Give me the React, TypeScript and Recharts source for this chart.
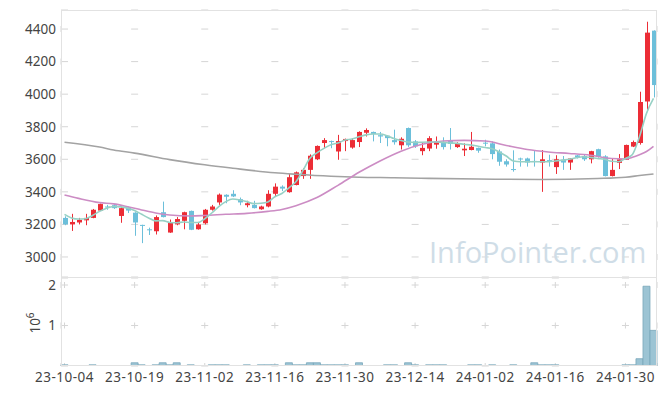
import { ComposedChart, BarChart, Bar, Line, XAxis, YAxis, CartesianGrid } from "recharts";

const dates = [
  "23-10-04", "23-10-05", "23-10-06", "23-10-10", "23-10-11", "23-10-12", "23-10-13", "23-10-16", "23-10-17", "23-10-18",
  "23-10-19", "23-10-20", "23-10-23", "23-10-24", "23-10-25", "23-10-26", "23-10-27", "23-10-30", "23-10-31", "23-11-01",
  "23-11-02", "23-11-03", "23-11-06", "23-11-07", "23-11-08", "23-11-09", "23-11-10", "23-11-13", "23-11-14", "23-11-15",
  "23-11-16", "23-11-17", "23-11-20", "23-11-21", "23-11-22", "23-11-23", "23-11-24", "23-11-27", "23-11-28", "23-11-29",
  "23-11-30", "23-12-01", "23-12-04", "23-12-05", "23-12-06", "23-12-07", "23-12-08", "23-12-11", "23-12-12", "23-12-13",
  "23-12-14", "23-12-15", "23-12-18", "23-12-19", "23-12-20", "23-12-21", "23-12-22", "23-12-26", "23-12-27", "23-12-28",
  "24-01-02", "24-01-03", "24-01-04", "24-01-05", "24-01-08", "24-01-09", "24-01-10", "24-01-11", "24-01-12", "24-01-15",
  "24-01-16", "24-01-17", "24-01-18", "24-01-19", "24-01-22", "24-01-23", "24-01-24", "24-01-25", "24-01-26", "24-01-29",
  "24-01-30", "24-01-31", "24-02-01", "24-02-02", "24-02-05",
];

const tickDates = ["23-10-04", "23-10-19", "23-11-02", "23-11-16", "23-11-30", "23-12-14", "24-01-02", "24-01-16", "24-01-30"];
const priceTicks = [3000, 3200, 3400, 3600, 3800, 4000, 4200, 4400];
const volumeTicks = [1000000, 2000000];

const opens = [
  3240, 3200, 3212, 3225, 3240, 3285, 3310, 3318, 3252, 3305,
  3272, 3197, 3170, 3158, 3275, 3150, 3200, 3222, 3283, 3170,
  3207, 3290, 3335, 3382, 3388, 3355, 3318, 3320, 3293, 3310,
  3388, 3432, 3398, 3442, 3497, 3535, 3600, 3700, 3712, 3648,
  3712, 3672, 3706, 3763, 3768, 3748, 3745, 3718, 3686, 3792,
  3710, 3650, 3666, 3690, 3706, 3714, 3675, 3655, 3657, 3670,
  3702, 3698, 3648, 3588, 3540, 3605, 3605, 3590, 3580, 3595,
  3552, 3597, 3580, 3624, 3620, 3600, 3662, 3618, 3497, 3578,
  3597, 3678, 3700, 3955, 4390,
];
const highs = [
  3250, 3265, 3240, 3265, 3295, 3328, 3320, 3325, 3310, 3310,
  3275, 3198, 3180, 3255, 3340, 3230, 3245, 3278, 3285, 3210,
  3295, 3320, 3390, 3385, 3410, 3365, 3345, 3345, 3315, 3410,
  3452, 3440, 3510, 3525, 3545, 3630, 3685, 3730, 3715, 3750,
  3727, 3730, 3772, 3790, 3770, 3768, 3746, 3782, 3735, 3795,
  3718, 3705, 3742, 3740, 3735, 3792, 3705, 3698, 3768, 3672,
  3720, 3710, 3660, 3600, 3655, 3610, 3610, 3657, 3657, 3628,
  3625, 3620, 3606, 3626, 3630, 3652, 3665, 3625, 3605, 3632,
  3690, 3715, 4015, 4445, 4392,
];
const lows = [
  3195, 3160, 3200, 3195, 3238, 3283, 3290, 3295, 3210, 3270,
  3130, 3085, 3135, 3138, 3243, 3148, 3195, 3170, 3165, 3168,
  3200, 3285, 3320, 3330, 3368, 3318, 3305, 3298, 3290, 3305,
  3372, 3405, 3395, 3440, 3480, 3480, 3595, 3668, 3668, 3597,
  3650, 3665, 3675, 3740, 3710, 3700, 3680, 3690, 3660, 3676,
  3670, 3625, 3650, 3665, 3660, 3660, 3670, 3620, 3655, 3640,
  3680, 3600, 3560, 3555, 3524, 3555, 3555, 3555, 3400, 3555,
  3510, 3535, 3535, 3605, 3590, 3575, 3610, 3495, 3495, 3540,
  3596, 3675, 3690, 3905, 3980,
];
const closes = [
  3200, 3215, 3228, 3240, 3290, 3325, 3305, 3300, 3300, 3285,
  3212, 3192, 3168, 3245, 3245, 3212, 3233, 3275, 3167, 3200,
  3290, 3310, 3383, 3370, 3372, 3335, 3330, 3300, 3310, 3388,
  3432, 3420, 3490, 3520, 3535, 3622, 3682, 3718, 3708, 3712,
  3725, 3718, 3768, 3780, 3756, 3740, 3730, 3705, 3726, 3686,
  3680, 3670, 3730, 3710, 3675, 3694, 3698, 3665, 3677, 3653,
  3698, 3632, 3585, 3568, 3536, 3600, 3580, 3585, 3600, 3590,
  3600, 3580, 3605, 3612, 3600, 3650, 3615, 3497, 3535, 3600,
  3688, 3706, 3952, 4378, 4056,
];

const ma5 = [
  3262, 3240, 3233, 3235, 3255, 3280, 3300, 3310, 3308, 3300,
  3285, 3262, 3240, 3222, 3223, 3212, 3210, 3215, 3212, 3212,
  3235, 3270, 3310, 3340, 3356, 3350, 3340, 3328, 3330, 3338,
  3370, 3390, 3425, 3462, 3530, 3606, 3640, 3667, 3690, 3700,
  3718, 3725, 3738, 3750, 3755, 3755, 3745, 3727, 3715, 3706,
  3703, 3705, 3706, 3706, 3704, 3700, 3698, 3692, 3688, 3680,
  3672, 3665, 3645, 3620, 3590, 3585, 3585, 3585, 3585, 3585,
  3590, 3595, 3600, 3610, 3616, 3612, 3605, 3600, 3588, 3585,
  3605, 3630, 3739, 3882, 3974,
];

// [index, value]
const ma20Points = [
  [0, 3381], [2, 3360], [5, 3334], [7, 3326], [9, 3309], [11, 3289], [13, 3270], [15, 3258],
  [18, 3252], [20, 3255], [23, 3262], [26, 3268], [29, 3280], [31, 3292], [33, 3315], [36, 3365],
  [39, 3440], [42, 3520], [45, 3590], [48, 3650], [51, 3692], [54, 3712], [57, 3716], [60, 3712],
  [63, 3685], [66, 3660], [69, 3645], [72, 3636], [75, 3625], [78, 3605], [80, 3602], [81, 3612],
  [82, 3628], [83, 3648], [84, 3680],
];
const ma60Points = [
  [0, 3705], [5, 3675], [7, 3657], [10, 3638], [15, 3598], [20, 3566], [24, 3545], [30, 3517],
  [33, 3508], [38, 3496], [42, 3490], [47, 3487], [52, 3483], [59, 3479], [68, 3476], [76, 3482],
  [80, 3490], [82, 3500], [84, 3510],
];

const volumes = [
  30000, 3000, 3000, 3000, 30000, 3000, 3000, 3000, 3000, 3000,
  80000, 30000, 3000, 30000, 80000, 30000, 80000, 3000, 30000, 3000,
  3000, 30000, 30000, 30000, 3000, 3000, 30000, 3000, 30000, 30000,
  30000, 3000, 80000, 30000, 30000, 80000, 80000, 30000, 30000, 30000,
  30000, 3000, 80000, 3000, 3000, 3000, 30000, 30000, 3000, 80000,
  30000, 3000, 30000, 30000, 30000, 3000, 3000, 3000, 30000, 30000,
  3000, 30000, 3000, 3000, 30000, 3000, 3000, 80000, 30000, 30000,
  30000, 3000, 3000, 3000, 3000, 3000, 3000, 3000, 3000, 3000,
  30000, 30000, 180000, 1970000, 880000,
];

const RED = "#ec2d36";
const BLUE = "#6cbfda";
const AXIS_TEXT = "#444";
const FONT = "'Noto Sans', sans-serif";

const lookup = (points: number[][], i: number) => {
  const p = points.find((q) => q[0] === i);
  return p ? p[1] : null;
};

const rows = dates.map((date, i) => ({
  date,
  open: opens[i],
  high: highs[i],
  low: lows[i],
  close: closes[i],
  range: [lows[i], highs[i]],
  ma5: ma5[i],
  ma20: lookup(ma20Points, i),
  ma60: lookup(ma60Points, i),
  volume: volumes[i],
}));

const Candle = (props: any) => {
  const { x, y, width, height, payload } = props;
  const { open, close, high, low } = payload;
  const color = close >= open ? RED : BLUE;
  const top = Math.min(y, y + height);
  const h = Math.abs(height);
  const ratio = h / (high - low || 1);
  const yOf = (v: number) => top + (high - v) * ratio;
  const bodyTop = yOf(Math.max(open, close));
  const bodyH = Math.max(1, Math.abs(open - close) * ratio);
  const cx = Math.round(x + width / 2) + 0.5;
  const bw = 5;
  return (
    <g>
      <line x1={cx} x2={cx} y1={top} y2={top + h} stroke={color} strokeWidth={1} />
      <rect x={cx - bw / 2} y={bodyTop} width={bw} height={bodyH} fill={color} />
    </g>
  );
};

const W = 665;

export default function App() {
  return (
    <div style={{ position: "absolute", left: 0, top: 0, width: W, height: 396, background: "#fff", fontFamily: FONT }}>
      <div style={{ position: "absolute", left: 0, top: 0 }}>
        <ComposedChart width={W} height={277} data={rows} margin={{ top: 10, right: 8, bottom: 0, left: 0 }}>
          <XAxis dataKey="date" ticks={tickDates} interval={0} height={0} tick={false} axisLine={false} tickLine={false} />
          <YAxis
            width={61}
            domain={[2877, 4517]}
            ticks={priceTicks}
            allowDataOverflow
            tickLine={false}
            axisLine={false}
            tickSize={3}
            tickMargin={2}
            tick={{ fill: AXIS_TEXT, fontSize: 13.5, fontFamily: FONT }}
          />
          <CartesianGrid stroke="#d6d6d6" strokeDasharray="7 63.12" vertical={false} />
          <CartesianGrid stroke="#d6d6d6" strokeDasharray="6 26.57" strokeDashoffset={16.57} horizontal={false} />
          <Line type="monotone" dataKey="ma60" stroke="#a3a3a3" strokeWidth={1.6} dot={false} connectNulls isAnimationActive={false} />
          <Line type="monotone" dataKey="ma20" stroke="#cc8cc4" strokeWidth={1.6} dot={false} connectNulls isAnimationActive={false} />
          <Line type="monotone" dataKey="ma5" stroke="#97d1c5" strokeWidth={1.6} dot={false} isAnimationActive={false} />
          <Bar dataKey="range" shape={<Candle />} isAnimationActive={false} />
        </ComposedChart>
      </div>
      <div style={{ position: "absolute", left: 0, top: 277 }}>
        <BarChart width={W} height={119} data={rows} margin={{ top: 1, right: 8, bottom: 0, left: 0 }} barCategoryGap={0}>
          <XAxis
            dataKey="date"
            ticks={tickDates}
            interval={0}
            height={30}
            axisLine={false}
            tickLine={false}
            tickSize={3}
            tickMargin={3}
            tick={{ fill: AXIS_TEXT, fontSize: 13.5, fontFamily: FONT, letterSpacing: 0.5 }}
          />
          <YAxis
            width={61}
            domain={[0, 2173000]}
            ticks={volumeTicks}
            allowDataOverflow
            tickLine={false}
            axisLine={false}
            tickSize={3}
            tickMargin={2}
            tickFormatter={(v: number) => String(v / 1000000)}
            tick={{ fill: AXIS_TEXT, fontSize: 13.5, fontFamily: FONT }}
          />
          <CartesianGrid stroke="#d6d6d6" strokeDasharray="7 63.12" vertical={false} />
          <CartesianGrid stroke="#d6d6d6" strokeDasharray="6 34.5" strokeDashoffset={36.5} horizontal={false} />
          <Bar dataKey="volume" fill="#9cc4d4" stroke="#78a7ba" strokeWidth={0.8} isAnimationActive={false} />
        </BarChart>
      </div>
      {/* frame around both panels */}
      <div style={{ position: "absolute", left: 61, top: 10, width: 596, height: 356, border: "1px solid #e2e2e2", boxSizing: "border-box", pointerEvents: "none" }} />
      <div style={{ position: "absolute", left: 61, top: 277, width: 596, height: 1, background: "#e2e2e2" }} />
      <div
        style={{
          position: "absolute",
          left: 10,
          top: 313,
          width: 40,
          height: 20,
          transform: "rotate(-90deg)",
          color: AXIS_TEXT,
          fontSize: 13.5,
          textAlign: "center",
          lineHeight: "20px",
        }}
      >
        10<sup style={{ fontSize: 10 }}>6</sup>
      </div>
      <div
        style={{
          position: "absolute",
          left: 429,
          top: 232,
          fontSize: 29,
          lineHeight: "40px",
          fontFamily: "'Open Sans', sans-serif",
          color: "#cfdde7",
          whiteSpace: "nowrap",
          pointerEvents: "none",
        }}
      >
        InfoPointer.com
      </div>
    </div>
  );
}
